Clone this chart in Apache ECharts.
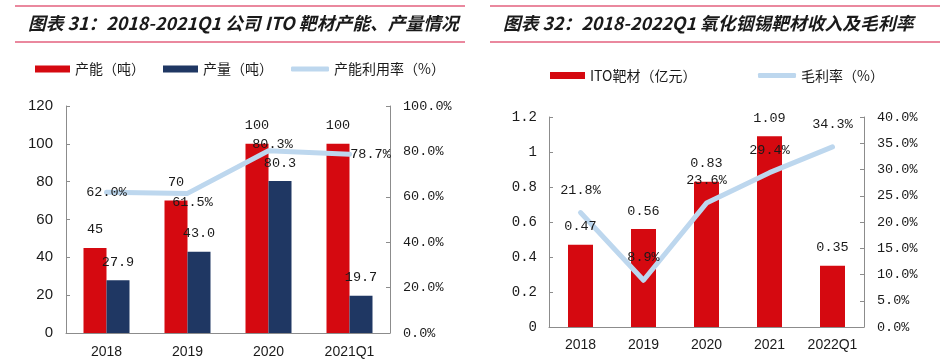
<!DOCTYPE html>
<html>
<head>
<meta charset="utf-8">
<script src="https://cdn.jsdelivr.net/npm/echarts@6/dist/echarts.min.js"></script>
<style>html,body{margin:0;padding:0;background:#fff}#c{width:949px;height:360px}</style>
</head>
<body>
<div id="c"></div>
<script>
// ---- data ----
const title1 = '图表 31：2018-2021Q1 公司 ITO 靶材产能、产量情况';
const title2 = '图表 32：2018-2022Q1 氧化铟锡靶材收入及毛利率';
const cats1 = ['2018', '2019', '2020', '2021Q1'];
const capacity = [45, 70, 100, 100];          // 产能（吨）
const production = [27.9, 43.0, 80.3, 19.7];  // 产量（吨）
const utilization = [62.0, 61.5, 80.3, 78.7]; // 产能利用率（%）
const cats2 = ['2018', '2019', '2020', '2021', '2022Q1'];
const revenue = [0.47, 0.56, 0.83, 1.09, 0.35]; // ITO靶材（亿元）
const margin = [21.8, 8.9, 23.6, 29.4, 34.3];   // 毛利率（%）

// ---- styles ----
const RED = '#d50910', NAVY = '#1f3763', BLUE = '#bdd7ee', AXIS = '#8c8c8c', TXT = '#1a1a1a';
const MONO = '"Liberation Mono", monospace';
const SANS = '"Liberation Sans", Arial, sans-serif';
const CJK = '"Noto Sans CJK SC", sans-serif';
const PINK = '#e3607e';

const chart = echarts.init(document.getElementById('c'), null, {renderer: 'canvas'});

const pct = v => v.toFixed(1) + '%';
const util1Offsets = [[0, 0], [5, 9], [4, -6], [21, 0]];

function yAxisBase(grid, pos, min, max, interval, fmt, font, size, margin) {
  return {
    type: 'value', gridIndex: grid, position: pos, min: min, max: max, interval: interval,
    axisLine: {show: true, lineStyle: {color: AXIS, width: 1}},
    axisTick: {show: true, inside: true, length: 4, lineStyle: {color: AXIS}},
    splitLine: {show: false},
    axisLabel: {formatter: fmt, color: TXT, fontFamily: font, fontSize: size, margin: margin}
  };
}
function xAxisBase(grid, data, margin) {
  return {
    type: 'category', gridIndex: grid, data: data,
    axisLine: {show: true, lineStyle: {color: AXIS, width: 1}},
    axisTick: {show: false},
    axisLabel: {color: TXT, fontFamily: SANS, fontSize: 14, margin: margin, interval: 0}
  };
}
function legendAt(name, left, top, isLine) {
  return {
    data: [{name: name, icon: isLine ? 'roundRect' : 'rect',
            itemStyle: isLine ? {color: BLUE} : undefined}],
    left: left, top: top, padding: 0,
    itemWidth: isLine ? 38 : 35, itemHeight: isLine ? 5 : 7, itemGap: 0,
    textStyle: {fontFamily: CJK, fontSize: 14, color: TXT}
  };
}
function lineSeries(name, xi, yi, data, label) {
  return {
    name: name, type: 'line', xAxisIndex: xi, yAxisIndex: yi, data: data,
    symbol: 'circle', symbolSize: 1, showSymbol: true,
    lineStyle: {color: BLUE, width: 5, cap: 'round', join: 'round'}, itemStyle: {color: BLUE},
    label: label
  };
}
const barLabel = (fmt) => ({show: true, position: 'top', distance: 11, fontFamily: MONO,
                             fontSize: 13.5, color: TXT, formatter: fmt});

const titleStyle = {fontFamily: CJK, fontSize: 17.8, fontStyle: 'italic', fontWeight: 'bold', color: TXT};

const option = {
  animation: false,
  backgroundColor: '#fff',
  title: [
    {text: title1, left: 28, top: 14, padding: 0, textStyle: titleStyle},
    {text: title2, left: 503, top: 14, padding: 0, textStyle: titleStyle}
  ],
  graphic: [
    {type: 'line', shape: {x1: 15, y1: 6, x2: 465, y2: 6}, style: {stroke: PINK, lineWidth: 1.5}},
    {type: 'line', shape: {x1: 15, y1: 42, x2: 465, y2: 42}, style: {stroke: PINK, lineWidth: 1.5}},
    {type: 'line', shape: {x1: 490, y1: 6, x2: 940, y2: 6}, style: {stroke: PINK, lineWidth: 1.5}},
    {type: 'line', shape: {x1: 490, y1: 42, x2: 940, y2: 42}, style: {stroke: PINK, lineWidth: 1.5}}
  ],
  legend: [
    legendAt('产能（吨）', 35, 62, false),
    legendAt('产量（吨）', 163, 62, false),
    legendAt('产能利用率（%）', 291, 62, true),
    legendAt('ITO靶材（亿元）', 550, 68.5, false),
    legendAt('毛利率（%）', 758, 68.5, true)
  ],
  grid: [
    {left: 66, top: 106, width: 324, height: 227},
    {left: 549, top: 117, width: 315, height: 210}
  ],
  xAxis: [xAxisBase(0, cats1, 12), xAxisBase(1, cats2, 11)],
  yAxis: [
    yAxisBase(0, 'left', 0, 120, 20, null, SANS, 15, 13),
    yAxisBase(0, 'right', 0, 100, 20, v => pct(v), MONO, 13.5, 13),
    yAxisBase(1, 'left', 0, 1.2, 0.2, v => String(+v.toFixed(1)), MONO, 14, 12),
    yAxisBase(1, 'right', 0, 40, 5, v => pct(v), MONO, 13.5, 13)
  ],
  series: [
    {name: '产能（吨）', type: 'bar', xAxisIndex: 0, yAxisIndex: 0, data: capacity,
     barWidth: 23, barGap: '0%', itemStyle: {color: RED},
     label: barLabel(p => String(p.value))},
    {name: '产量（吨）', type: 'bar', xAxisIndex: 0, yAxisIndex: 0, data: production,
     barWidth: 23, barGap: '0%', itemStyle: {color: NAVY},
     label: barLabel(p => p.value.toFixed(1))},
    lineSeries('产能利用率（%）', 0, 1,
      utilization.map((v, i) => ({value: v, label: {offset: util1Offsets[i]}})),
      {show: true, position: 'inside', fontFamily: MONO, fontSize: 13.5, color: TXT,
       formatter: p => pct(p.value)}),
    {name: 'ITO靶材（亿元）', type: 'bar', xAxisIndex: 1, yAxisIndex: 2, data: revenue,
     barWidth: 25, itemStyle: {color: RED}},
    lineSeries('毛利率（%）', 1, 3, margin,
      {show: true, position: 'top', distance: 15, fontFamily: MONO, fontSize: 13.5, color: TXT,
       formatter: p => pct(p.value)}),
    // transparent overlay that only carries the revenue labels above the line
    {name: 'revenue-labels', type: 'bar', xAxisIndex: 1, yAxisIndex: 2, data: revenue,
     barWidth: 25, barGap: '-100%', z: 4, silent: true,
     itemStyle: {color: 'rgba(0,0,0,0)'},
     label: barLabel(p => p.value.toFixed(2))}
  ]
};
chart.setOption(option);
</script>
</body>
</html>
